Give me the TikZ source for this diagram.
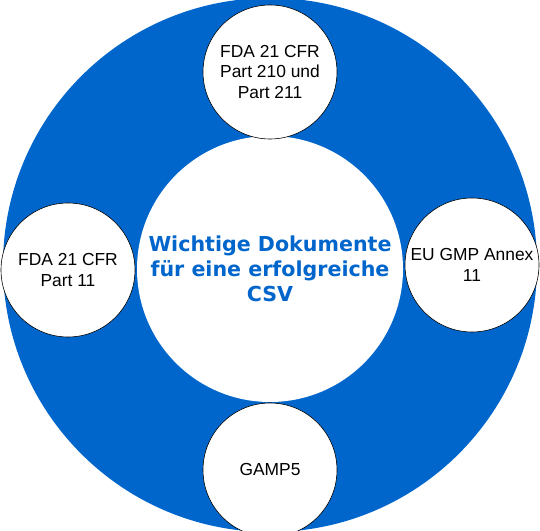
\documentclass[tikz,border=0pt]{standalone}
\usepackage{fontspec}
\setmainfont{Liberation Sans}
\newfontfamily\hubfont{DejaVu Sans}
\usetikzlibrary{positioning}
\definecolor{csvblue}{RGB}{0,102,204}
\tikzset{
  ring/.style={circle,fill=csvblue,minimum size=534pt,inner sep=0pt},
  hub/.style={circle,fill=white,minimum size=266pt,inner sep=0pt,
    align=center,text=csvblue,
    font=\hubfont\bfseries\fontsize{20.6}{25}\selectfont},
  docnode/.style={circle,draw=black,line width=0.6pt,fill=white,
    minimum size=134pt,inner sep=0pt,align=center,
    font=\fontsize{17.4}{20.7}\selectfont},
}
\begin{document}
\begin{tikzpicture}[x=1pt,y=1pt]
  \useasboundingbox (0,0) rectangle (540,530);
  \clip (0,0) rectangle (540,530);
  \node[ring] (ring) at (270,265) {};
  \node[hub] (hub) at (270,261) {Wichtige Dokumente\\für eine erfolgreiche\\CSV};
  \node[docnode] (part210) at (270,458) {FDA 21 CFR\\Part 210 und\\Part 211};
  \node[docnode] (part11) at (68,260) {FDA 21 CFR\\Part 11};
  \node[docnode] (annex11) at (472,265) {EU GMP Annex\\11};
  \node[docnode] (gamp) at (270,60) {GAMP5};
\end{tikzpicture}
\end{document}
